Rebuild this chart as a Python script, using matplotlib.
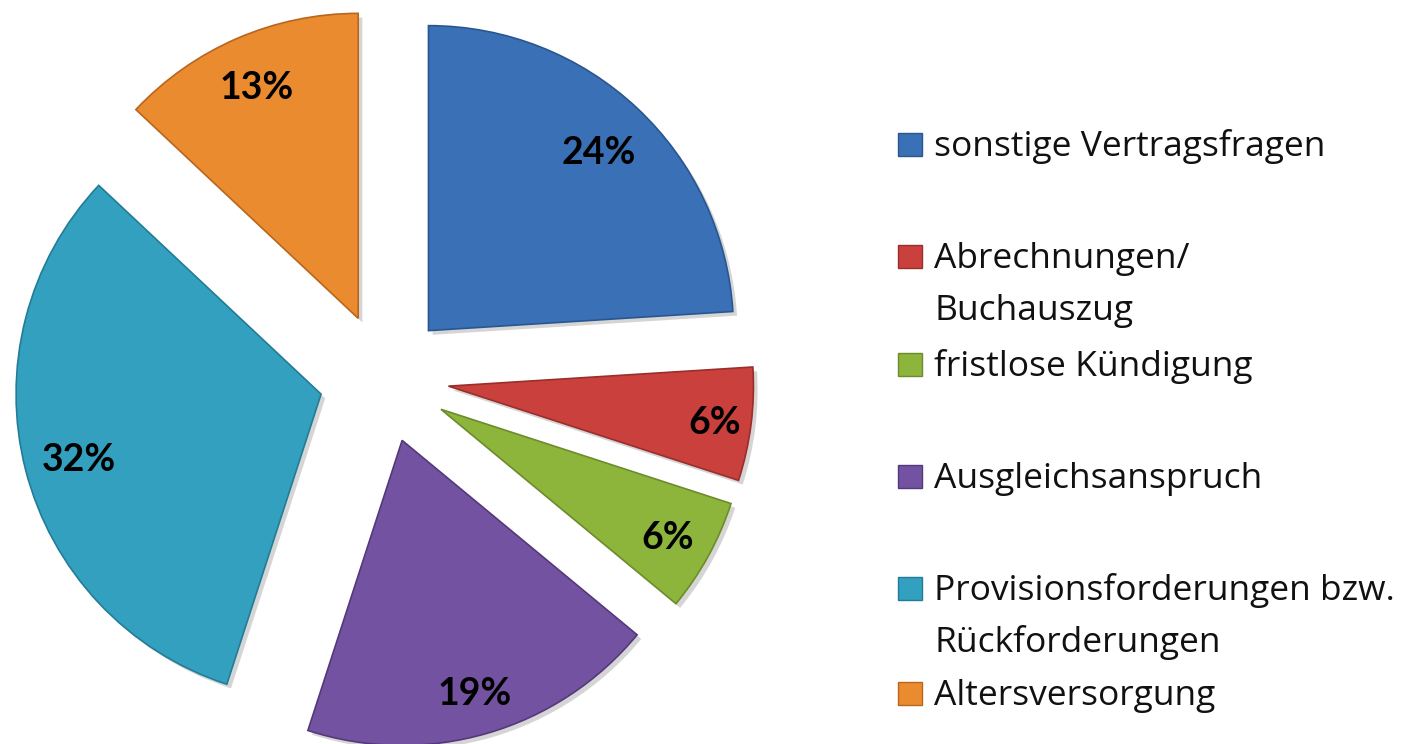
import matplotlib
matplotlib.use('Agg')
import numpy as np
import matplotlib.pyplot as plt
import matplotlib.patheffects as pe
from matplotlib.patches import Rectangle

# data
categories = ['sonstige Vertragsfragen', 'Abrechnungen/\nBuchauszug', 'fristlose Kündigung',
              'Ausgleichsanspruch', 'Provisionsforderungen bzw.\nRückforderungen', 'Altersversorgung']
shares = [24, 6, 6, 19, 32, 13]
colors = ['#3A70B5', '#C9403C', '#8DB53C', '#7353A1', '#34A0C0', '#EB8B30']
edges = ['#2A5690', '#9A2E2B', '#6C8C2C', '#54397A', '#237C96', '#B8661E']

W, H = 1422, 744
plt.rcParams['font.family'] = ['Lato', 'DejaVu Sans']

fig = plt.figure(figsize=(W / 100, H / 100), dpi=100)
ax = fig.add_axes([0, 0, 1, 1])

# pie centre and radius in pixels
cx, cy, R = 384, 378, 305

wedges, texts, autotexts = ax.pie(
    shares, colors=colors, startangle=90, counterclock=False,
    explode=[0.213] * len(shares), radius=1, pctdistance=0.84,
    autopct=lambda p: f'{p:.0f}%',
    textprops=dict(fontsize=27, fontweight='bold', color='black'),
    wedgeprops=dict(linewidth=1.2))

# label distance per slice (fraction of radius), as placed in the original
label_r = [0.815, 0.88, 0.85, 0.855, 0.82, 0.835]
for w, ec, t, lr in zip(wedges, edges, autotexts, label_r):
    w.set_edgecolor(ec)
    w.set_path_effects([pe.SimplePatchShadow(offset=(3, -3), shadow_rgbFace='#888888', alpha=0.35),
                        pe.Normal()])
    mid = np.deg2rad((w.theta1 + w.theta2) / 2)
    x0, y0 = w.center
    t.set_position((x0 + lr * np.cos(mid), y0 + lr * np.sin(mid) - 0.012))

ax.set_xlim(-cx / R, (W - cx) / R)
ax.set_ylim(-(H - cy) / R, cy / R)
ax.set_aspect('equal')
ax.axis('off')

# legend drawn by hand so the spacing follows the original
baselines = [156, 268, 376, 488, 600, 705]
line_h = 52
for lab, col, ec, yb in zip(categories, colors, edges, baselines):
    fig.add_artist(Rectangle((898 / W, 1 - yb / H), 24 / W, 23 / H,
                             transform=fig.transFigure, facecolor=col,
                             edgecolor=ec, linewidth=1))
    for k, line in enumerate(lab.split('\n')):
        fig.text(934 / W, 1 - (yb + k * line_h) / H, line, fontsize=25.5,
                 family=['Open Sans', 'DejaVu Sans'],
                 va='baseline', ha='left', color='#111111')

fig.savefig('out.png', dpi=100)
